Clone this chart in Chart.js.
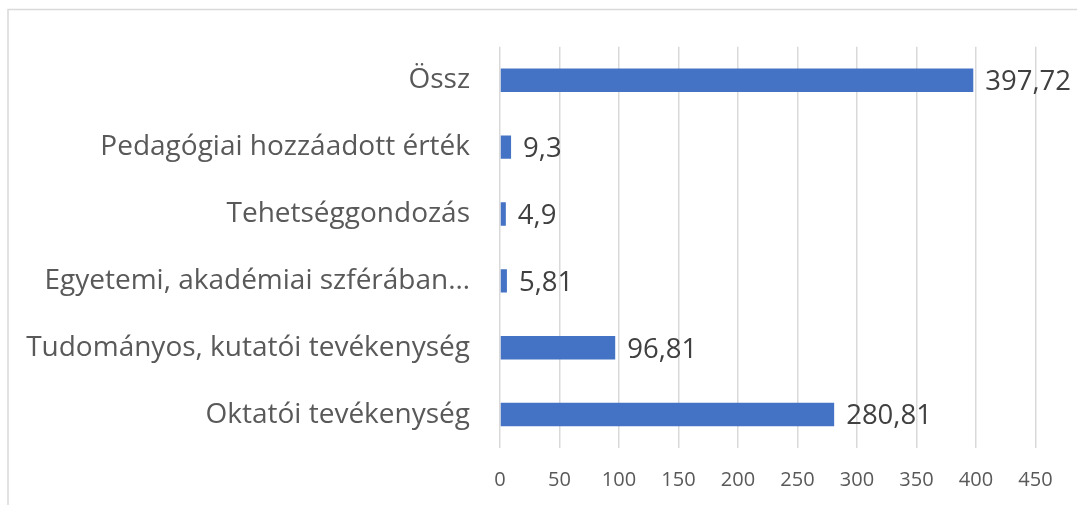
<!DOCTYPE html>
<html>
<head>
<meta charset="utf-8">
<script src="https://cdn.jsdelivr.net/npm/chart.js@4/dist/chart.umd.min.js"></script>
<style>
    html, body { margin: 0; padding: 0; background: #ffffff; }
    #wrap { width: 1077px; height: 505px; }
</style>
</head>
<body>
<div id="wrap"><canvas id="chart" width="1077" height="505"></canvas></div>
<script>
// Adatok
const categories = [
    'Össz',
    'Pedagógiai hozzáadott érték',
    'Tehetséggondozás',
    'Egyetemi, akadémiai szférában…',
    'Tudományos, kutatói tevékenység',
    'Oktatói tevékenység'
];
const values = [397.72, 9.3, 4.9, 5.81, 96.81, 280.81];
const valueLabels = ['397,72', '9,3', '4,9', '5,81', '96,81', '280,81'];
const xTicks = [0, 50, 100, 150, 200, 250, 300, 350, 400, 450];

const FONT = '"Open Sans", sans-serif';

// keret a diagram körül
const framePlugin = {
    id: 'frame',
    beforeDraw(chart) {
        const ctx = chart.ctx;
        ctx.save();
        ctx.strokeStyle = '#d9d9d9';
        ctx.lineWidth = 1.5;
        ctx.beginPath();
        ctx.moveTo(8, 520);
        ctx.lineTo(8, 9.5);
        ctx.lineTo(1090, 9.5);
        ctx.stroke();
        ctx.restore();
    }
};

// értékcímkék a sávok mellett
const valueLabelPlugin = {
    id: 'valueLabels',
    afterDatasetsDraw(chart) {
        const ctx = chart.ctx;
        const meta = chart.getDatasetMeta(0);
        ctx.save();
        ctx.font = '27.5px ' + FONT;
        ctx.fillStyle = '#404040';
        ctx.textAlign = 'left';
        ctx.textBaseline = 'middle';
        meta.data.forEach((bar, i) => {
            ctx.fillText(valueLabels[i], bar.x + 12, bar.y + 2);
        });
        ctx.restore();
    }
};

const ctx = document.getElementById('chart').getContext('2d');
new Chart(ctx, {
    type: 'bar',
    data: {
        labels: categories,
        datasets: [{
            data: values,
            backgroundColor: '#4472c4',
            borderWidth: 0,
            barPercentage: 0.7,
            categoryPercentage: 0.5
        }]
    },
    options: {
        indexAxis: 'y',
        responsive: false,
        animation: false,
        layout: { padding: { top: 38, right: 41.5, bottom: 0, left: 0 } },
        scales: {
            x: {
                min: 0,
                max: 450,
                afterBuildTicks(axis) {
                    axis.ticks = xTicks.map(v => ({ value: v }));
                },
                afterFit(axis) { axis.height = 57; },
                grid: { color: '#d9d9d9', lineWidth: 1.5, drawTicks: false },
                border: { display: false },
                ticks: {
                    color: '#595959',
                    font: { family: FONT, size: 20 },
                    padding: 20,
                    maxRotation: 0
                }
            },
            y: {
                afterFit(axis) { axis.width = 500; },
                grid: { display: false, drawTicks: false },
                border: { display: false },
                ticks: {
                    color: '#595959',
                    font: { family: FONT, size: 28 },
                    padding: 30,
                    autoSkip: false
                }
            }
        },
        plugins: {
            legend: { display: false },
            tooltip: { enabled: false }
        }
    },
    plugins: [framePlugin, valueLabelPlugin]
});
</script>
</body>
</html>
